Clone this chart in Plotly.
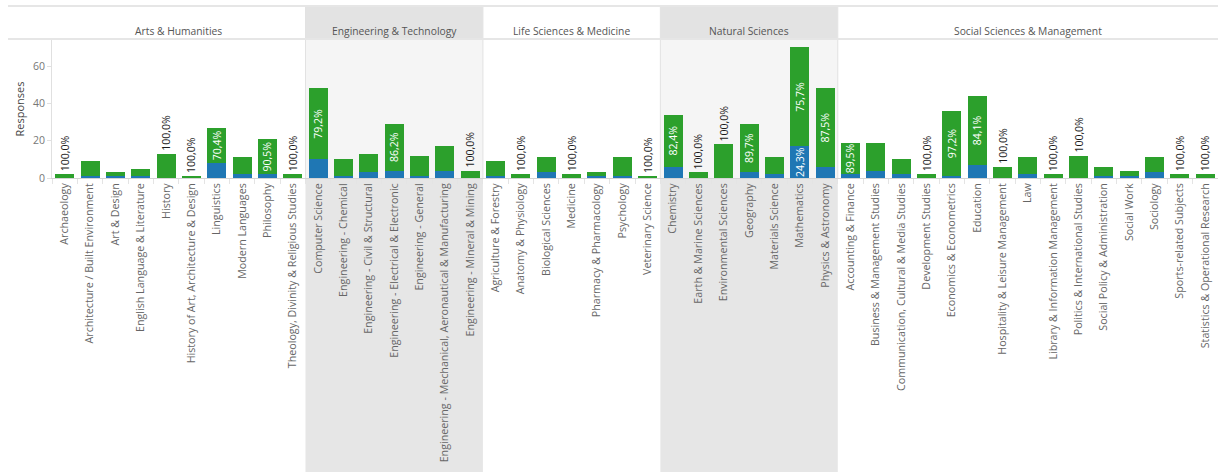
import plotly.graph_objects as go

# ---------------- data ----------------
groups = ["Arts & Humanities", "Engineering & Technology", "Life Sciences & Medicine",
          "Natural Sciences", "Social Sciences & Management"]
group_shaded = [False, True, False, True, False]

arts = ["Archaeology", "Architecture / Built Environment", "Art & Design",
        "English Language & Literature", "History", "History of Art, Architecture & Design",
        "Linguistics", "Modern Languages", "Philosophy", "Theology, Divinity & Religious Studies"]
eng = ["Computer Science", "Engineering - Chemical", "Engineering - Civil & Structural",
       "Engineering - Electrical & Electronic", "Engineering - General",
       "Engineering - Mechanical, Aeronautical & Manufacturing", "Engineering - Mineral & Mining"]
life = ["Agriculture & Forestry", "Anatomy & Physiology", "Biological Sciences", "Medicine",
        "Pharmacy & Pharmacology", "Psychology", "Veterinary Science"]
nat = ["Chemistry", "Earth & Marine Sciences", "Environmental Sciences", "Geography",
       "Materials Science", "Mathematics", "Physics & Astronomy"]
soc = ["Accounting & Finance", "Business & Management Studies",
       "Communication, Cultural & Media Studies", "Development Studies",
       "Economics & Econometrics", "Education", "Hospitality & Leisure Management", "Law",
       "Library & Information Management", "Politics & International Studies",
       "Social Policy & Administration", "Social Work", "Sociology",
       "Sports-related Subjects", "Statistics & Operational Research"]
group_subjects = [arts, eng, life, nat, soc]

green_arts = [2, 8, 2, 4, 13, 1, 19, 9, 19, 2]
blue_arts = [0, 1, 1, 1, 0, 0, 8, 2, 2, 0]
green_eng = [38, 9, 10, 25, 11, 13, 4]
blue_eng = [10, 1, 3, 4, 1, 4, 0]
green_life = [8, 2, 8, 2, 2, 10, 1]
blue_life = [1, 0, 3, 0, 1, 1, 0]
green_nat = [28, 3, 18, 26, 9, 53, 42]
blue_nat = [6, 0, 0, 3, 2, 17, 6]
green_soc = [17, 15, 8, 2, 35, 37, 6, 9, 2, 12, 5, 3, 8, 2, 2]
blue_soc = [2, 4, 2, 0, 1, 7, 0, 2, 0, 0, 1, 1, 3, 0, 0]

# subjects whose green share is labelled / whose blue share is labelled
green_labelled = ["Archaeology", "History", "History of Art, Architecture & Design", "Linguistics",
                  "Philosophy", "Theology, Divinity & Religious Studies", "Computer Science",
                  "Engineering - Electrical & Electronic", "Engineering - Mineral & Mining",
                  "Anatomy & Physiology", "Medicine", "Veterinary Science", "Chemistry",
                  "Earth & Marine Sciences", "Environmental Sciences", "Geography", "Mathematics",
                  "Physics & Astronomy", "Accounting & Finance", "Development Studies",
                  "Economics & Econometrics", "Education", "Hospitality & Leisure Management",
                  "Library & Information Management", "Politics & International Studies",
                  "Sports-related Subjects", "Statistics & Operational Research"]
blue_labelled = ["Mathematics"]

# ---------------- build ----------------
subjects = arts + eng + life + nat + soc
green = green_arts + green_eng + green_life + green_nat + green_soc
blue = blue_arts + blue_eng + blue_life + blue_nat + blue_soc

def pct(v, t):
    return f"{v / t * 100:.1f}".replace(".", ",") + "%"

g_text, g_pos = [], []
b_text = []
for s, g, b in zip(subjects, green, blue):
    t = g + b
    if s in green_labelled:
        g_text.append(pct(g, t))
        g_pos.append("outside" if b == 0 else "inside")
    else:
        g_text.append("")
        g_pos.append("inside")
    b_text.append(pct(b, t) if s in blue_labelled else "")

FONT = "Open Sans"
GREEN = "#2ca02c"
BLUE = "#1f77b4"

fig = go.Figure()
fig.add_trace(go.Bar(
    x=subjects, y=blue, name="blue", marker=dict(color=BLUE, line=dict(width=0)),
    text=b_text, textposition="inside", insidetextanchor="middle", textangle=-90,
    constraintext="none", textfont=dict(family=FONT, size=10.5, color="white"),
    showlegend=False, hoverinfo="x+y"))
fig.add_trace(go.Bar(
    x=subjects, y=green, name="green", marker=dict(color=GREEN, line=dict(width=0)),
    text=g_text, textposition=g_pos, insidetextanchor="middle", textangle=-90,
    constraintext="none", insidetextfont=dict(family=FONT, size=10.5, color="white"),
    outsidetextfont=dict(family=FONT, size=10.5, color="#1a1a1a"),
    cliponaxis=False, showlegend=False, hoverinfo="x+y"))

# pixel geometry helpers
PLOT_TOP, PLOT_BOT, W, H = 40, 178, 1218, 472
LEFT = 52
def py(p):
    return (PLOT_BOT - p) / (PLOT_BOT - PLOT_TOP)
def px(p):
    return (p - LEFT) / (W - LEFT)

shapes, annotations = [], []
start = 0
for name, subs, shaded in zip(groups, group_subjects, group_shaded):
    x0, x1 = start - 0.5, start + len(subs) - 0.5
    shapes.append(dict(type="rect", xref="x", yref="paper", x0=x0, x1=x1,
                       y0=py(39), y1=py(6), fillcolor="#e3e3e3" if shaded else "white",
                       line=dict(width=0), layer="below"))
    if shaded:
        shapes.append(dict(type="rect", xref="x", yref="paper", x0=x0, x1=x1,
                           y0=0, y1=1, fillcolor="#f5f5f5", line=dict(width=0), layer="below"))
        shapes.append(dict(type="rect", xref="x", yref="paper", x0=x0, x1=x1,
                           y0=py(H + 5), y1=0, fillcolor="#e6e6e6", line=dict(width=0),
                           layer="below"))
    annotations.append(dict(x=(x0 + x1) / 2, y=py(22), xref="x", yref="paper", text=name,
                            showarrow=False, font=dict(family=FONT, size=10.3, color="#555555")))
    if start > 0:
        shapes.append(dict(type="line", xref="x", yref="paper", x0=x0, x1=x0,
                           y0=0, y1=py(6), line=dict(color="#e2e2e2", width=1)))
    start += len(subs)

# horizontal header lines
for yy in (6, 39):
    shapes.append(dict(type="line", xref="paper", yref="paper", x0=px(8), x1=1,
                       y0=py(yy), y1=py(yy), line=dict(color="#e6e6e6", width=2)))

fig.update_layout(
    width=W, height=H, barmode="stack", bargap=0.25,
    margin=dict(l=LEFT, r=0, t=PLOT_TOP, b=H - PLOT_BOT, autoexpand=False),
    paper_bgcolor="white", plot_bgcolor="rgba(0,0,0,0)",
    font=dict(family=FONT, size=11, color="#555555"),
    shapes=shapes, annotations=annotations,
    xaxis=dict(type="category", tickangle=-90, automargin=False, showgrid=False,
               showline=True, linecolor="#d4d4d4", linewidth=1,
               ticks="outside", tickson="boundaries", ticklen=5, tickcolor="#e4e4e4",
               tickfont=dict(family=FONT, size=10.7, color="#666666"),
               range=[-0.5, len(subjects) - 0.5]),
    yaxis=dict(range=[0, 74], tickvals=[0, 20, 40, 60], showgrid=False, zeroline=False,
               showline=True, linecolor="#e0e0e0", ticks="outside", ticklen=4,
               tickcolor="#e0e0e0", automargin=False,
               tickfont=dict(family=FONT, size=10.5, color="#777777"),
               title=dict(text="Responses", font=dict(family=FONT, size=11, color="#444444"),
                          standoff=6)),
)

fig.write_html("out.html", config={"displayModeBar": False},
               post_script="document.body.style.margin='0';")
